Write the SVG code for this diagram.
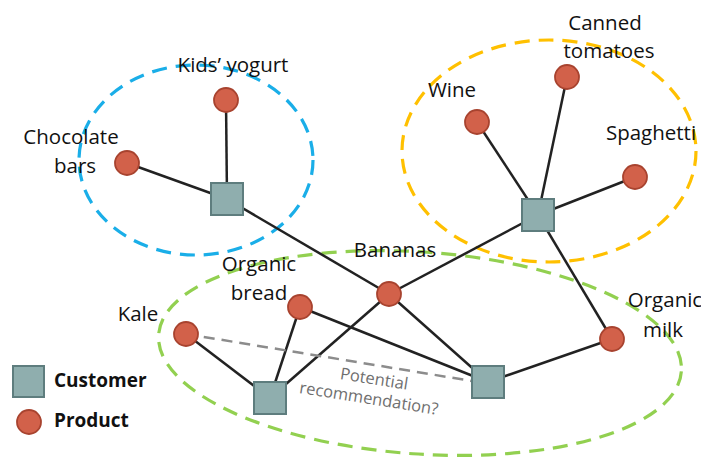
<svg xmlns="http://www.w3.org/2000/svg" width="701" height="459" viewBox="0 0 701 459">
<style>
.bg{fill:#ffffff}
.grp{fill:none;stroke-width:3.2;stroke-dasharray:15 9}
.edge{stroke:#222222;stroke-width:2.5;fill:none}
.rec{stroke:#8c8c8c;stroke-width:2.5;stroke-dasharray:11 7;fill:none}
.prod{fill:#D2614A;stroke:#A8432F;stroke-width:1.8}
.cust{fill:#8FAEAE;stroke:#5E7D7E;stroke-width:2}
.lbl{font-family:"Open Sans","Noto Sans","Liberation Sans",sans-serif;font-size:20.5px;fill:#111111;text-anchor:middle}
.leg{font-family:"Open Sans","Noto Sans","Liberation Sans",sans-serif;font-size:19px;font-weight:bold;fill:#111111}
.note{font-family:"Open Sans","Noto Sans","Liberation Sans",sans-serif;font-size:16.5px;fill:#6f6f6f;text-anchor:middle}
</style>
<rect class="bg" x="0" y="0" width="701" height="459"/>
<g id="groups">
<ellipse class="grp" cx="196" cy="160" rx="117" ry="95" stroke="#1AAEE8"/>
<ellipse class="grp" cx="549" cy="151" rx="147" ry="111" stroke="#FFC000"/>
<ellipse class="grp" cx="420" cy="353" rx="262" ry="101" transform="rotate(4 420 353)" stroke="#92D050"/>
</g>
<g id="connectors">
<line class="edge" x1="226" y1="100" x2="227" y2="199"/>
<line class="edge" x1="127" y1="163" x2="227" y2="199"/>
<line class="edge" x1="227" y1="199" x2="389" y2="294"/>
<line class="edge" x1="538" y1="215" x2="477" y2="122"/>
<line class="edge" x1="538" y1="215" x2="567" y2="77"/>
<line class="edge" x1="538" y1="215" x2="635" y2="177"/>
<line class="edge" x1="538" y1="215" x2="389" y2="294"/>
<line class="edge" x1="538" y1="215" x2="612" y2="339"/>
<line class="edge" x1="389" y1="294" x2="488" y2="382"/>
<line class="edge" x1="389" y1="294" x2="270" y2="398"/>
<line class="edge" x1="300" y1="307" x2="488" y2="382"/>
<line class="edge" x1="300" y1="307" x2="270" y2="398"/>
<line class="edge" x1="186" y1="334" x2="270" y2="398"/>
<line class="edge" x1="488" y1="382" x2="612" y2="339"/>
<line class="rec" x1="186" y1="334" x2="472" y2="381"/>
</g>
<g id="customer1"><rect class="cust" x="211" y="183" width="32" height="32"/></g>
<g id="customer2"><rect class="cust" x="522" y="199" width="32" height="32"/></g>
<g id="customer3"><rect class="cust" x="472" y="366" width="32" height="32"/></g>
<g id="customer4"><rect class="cust" x="254" y="382" width="32" height="32"/></g>
<g id="kids-yogurt"><circle class="prod" cx="226" cy="100" r="12"/><text class="lbl" x="233" y="72">Kids’ yogurt</text></g>
<g id="chocolate-bars"><circle class="prod" cx="127" cy="163" r="12"/><text class="lbl" x="71" y="144">Chocolate</text><text class="lbl" x="75" y="173">bars</text></g>
<g id="wine"><circle class="prod" cx="477" cy="122" r="12"/><text class="lbl" x="452" y="97">Wine</text></g>
<g id="canned-tomatoes"><circle class="prod" cx="567" cy="77" r="12"/><text class="lbl" x="605" y="30">Canned</text><text class="lbl" x="609" y="58">tomatoes</text></g>
<g id="spaghetti"><circle class="prod" cx="635" cy="177" r="12"/><text class="lbl" x="651" y="140">Spaghetti</text></g>
<g id="bananas"><circle class="prod" cx="389" cy="294" r="12"/><text class="lbl" x="395" y="257">Bananas</text></g>
<g id="organic-milk"><circle class="prod" cx="612" cy="339" r="12"/><text class="lbl" x="665" y="307">Organic</text><text class="lbl" x="663" y="337">milk</text></g>
<g id="kale"><circle class="prod" cx="186" cy="334" r="12"/><text class="lbl" x="138" y="321">Kale</text></g>
<g id="organic-bread"><circle class="prod" cx="300" cy="307" r="12"/><text class="lbl" x="259" y="271">Organic</text><text class="lbl" x="259" y="300">bread</text></g>
<g id="recommendation-note"><text class="note" transform="rotate(9 370 392)" x="372" y="384">Potential</text><text class="note" transform="rotate(9 370 392)" x="370" y="404">recommendation?</text></g>
<g id="legend">
<rect class="cust" x="13" y="366" width="31" height="31"/>
<text class="leg" x="54" y="387">Customer</text>
<circle class="prod" cx="29" cy="422" r="12"/>
<text class="leg" x="54" y="427">Product</text>
</g>
</svg>
